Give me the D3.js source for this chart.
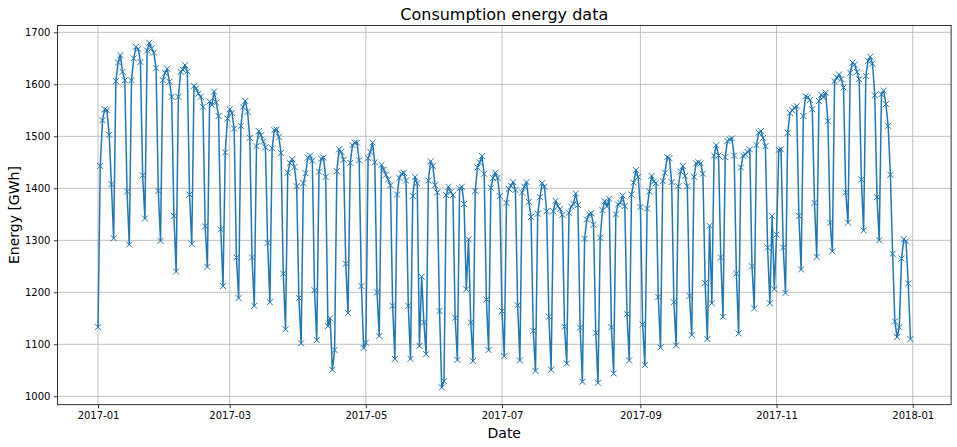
<!DOCTYPE html>
<html>
<head>
<meta charset="utf-8">
<script src="https://cdn.jsdelivr.net/npm/d3@7"></script>
<style>
  html, body { margin: 0; padding: 0; background: #ffffff; }
  svg { display: block; font-family: "DejaVu Sans", sans-serif; }
</style>
</head>
<body>
<svg id="chart" width="957" height="447"></svg>
<script>
// ---- Data: daily energy consumption 2017 (GWh), one array per month ----
const jan = [1133,1443,1531,1552,1550,1503,1408,1304,1606,1642,1656,1624,1608,1394,1292,1608,1650,1672,1668,1643,1425,1342,1665,1680,1669,1661,1631,1395,1299,1608,1622];
const feb = [1630,1605,1576,1347,1240,1576,1624,1628,1637,1625,1388,1293,1597,1592,1582,1576,1557,1327,1249,1567,1560,1586,1565,1539,1321,1212,1469,1534];
const mar = [1552,1545,1515,1267,1189,1520,1557,1568,1547,1497,1267,1174,1481,1510,1502,1490,1479,1295,1181,1477,1512,1513,1499,1468,1236,1129,1430,1449,1456,1441,1404];
const apr = [1189,1102,1410,1429,1459,1463,1453,1204,1108,1432,1457,1459,1422,1135,1150,1051,1089,1433,1475,1470,1455,1255,1160,1449,1483,1488,1488,1454,1212,1093];
const may = [1103,1458,1470,1488,1450,1200,1116,1445,1436,1426,1417,1406,1174,1072,1388,1420,1428,1430,1415,1174,1072,1385,1422,1410,1097,1230,1142,1081,1415,1452,1443];
const jun = [1406,1392,1164,1017,1029,1387,1403,1393,1387,1151,1070,1400,1403,1370,1206,1302,1142,1068,1395,1440,1450,1462,1428,1186,1089,1401,1420,1430,1420,1385];
const jul = [1164,1077,1372,1399,1405,1412,1397,1175,1069,1392,1403,1412,1374,1345,1126,1049,1351,1383,1410,1403,1356,1153,1051,1356,1376,1366,1360,1349,1134,1063,1353];
const aug = [1365,1370,1390,1368,1132,1028,1303,1340,1350,1352,1330,1122,1026,1305,1358,1375,1365,1380,1133,1044,1350,1369,1372,1386,1366,1158,1069,1388,1411,1435,1422];
const sep = [1364,1138,1060,1361,1394,1424,1413,1410,1191,1094,1414,1430,1460,1458,1412,1181,1098,1404,1432,1443,1424,1404,1193,1118,1422,1448,1450,1448,1428,1218];
const oct = [1110,1328,1179,1463,1483,1463,1267,1153,1460,1491,1494,1496,1463,1236,1121,1440,1463,1465,1470,1475,1250,1169,1483,1507,1510,1497,1481,1286,1179,1347,1206];
const nov = [1311,1474,1475,1286,1199,1507,1545,1550,1555,1558,1347,1244,1539,1577,1575,1570,1552,1372,1268,1568,1580,1575,1584,1529,1334,1279,1606,1613,1619,1610];
const dec = [1594,1392,1334,1622,1642,1638,1624,1610,1417,1319,1616,1645,1653,1640,1579,1383,1300,1581,1588,1562,1520,1426,1274,1144,1114,1133,1265,1302,1298,1217,1110];

const startDate = "2017-01-01";
const yTickValues = [1000, 1100, 1200, 1300, 1400, 1500, 1600, 1700];
const xTickLabels = ["2017-01", "2017-03", "2017-05", "2017-07", "2017-09", "2017-11", "2018-01"];
const titleText = "Consumption energy data";
const xLabelText = "Date";
const yLabelText = "Energy [GWh]";

(function () {
  // ---- Build series ----
  const values = [].concat(jan, feb, mar, apr, may, jun, jul, aug, sep, oct, nov, dec);
  const parseDay = d3.utcParse("%Y-%m-%d");
  const parseMonth = d3.utcParse("%Y-%m");
  const t0 = parseDay(startDate);
  const data = values.map((v, i) => ({ date: d3.utcDay.offset(t0, i), value: v }));

  // ---- Layout ----
  const svg = d3.select("#chart");
  const mLeft = 57.4, mRight = 951.1, mTop = 25.5, mBottom = 404.7;
  const blue = "#1f77b4";

  const xExt = d3.extent(data, d => d.date);
  const xSpan = xExt[1] - xExt[0];
  const x = d3.scaleUtc()
    .domain([new Date(+xExt[0] - 0.05 * xSpan), new Date(+xExt[1] + 0.05 * xSpan)])
    .range([mLeft, mRight]);

  const yExt = d3.extent(data, d => d.value);
  const ySpan = yExt[1] - yExt[0];
  const y = d3.scaleLinear()
    .domain([yExt[0] - 0.05 * ySpan, yExt[1] + 0.05 * ySpan])
    .range([mBottom, mTop]);

  const xTicks = xTickLabels.map(s => parseMonth(s));

  // Grid
  const grid = svg.append("g");
  grid.selectAll("line.vg").data(xTicks).enter().append("line")
    .attr("class", "vg")
    .attr("x1", d => x(d)).attr("x2", d => x(d))
    .attr("y1", mTop).attr("y2", mBottom)
    .attr("stroke", "#b0b0b0").attr("stroke-width", 0.8);
  grid.selectAll("line.hg").data(yTickValues).enter().append("line")
    .attr("class", "hg")
    .attr("x1", mLeft).attr("x2", mRight)
    .attr("y1", d => y(d)).attr("y2", d => y(d))
    .attr("stroke", "#b0b0b0").attr("stroke-width", 0.8);

  // Line
  const line = d3.line().x(d => x(d.date)).y(d => y(d.value));
  svg.append("path").datum(data)
    .attr("d", line)
    .attr("fill", "none")
    .attr("stroke", blue)
    .attr("stroke-width", 1.5)
    .attr("stroke-linejoin", "round");

  // Markers 'x'
  const ms = 3;
  svg.append("g").selectAll("path").data(data).enter().append("path")
    .attr("d", d => {
      const cx = x(d.date), cy = y(d.value);
      return `M${cx - ms},${cy - ms}L${cx + ms},${cy + ms}M${cx - ms},${cy + ms}L${cx + ms},${cy - ms}`;
    })
    .attr("stroke", blue)
    .attr("stroke-width", 1)
    .attr("fill", "none");

  // Axes
  const xAxis = d3.axisBottom(x).tickValues(xTicks).tickFormat(d3.utcFormat("%Y-%m"))
    .tickSizeInner(3.5).tickSizeOuter(0).tickPadding(3.5);
  const yAxis = d3.axisLeft(y).tickValues(yTickValues).tickFormat(d3.format("d"))
    .tickSizeInner(3.5).tickSizeOuter(0).tickPadding(3.5);

  const gx = svg.append("g").attr("transform", `translate(0,${mBottom})`).call(xAxis);
  const gy = svg.append("g").attr("transform", `translate(${mLeft},0)`).call(yAxis);
  [gx, gy].forEach(g => {
    g.select(".domain").remove();
    g.selectAll(".tick line").attr("stroke", "#000").attr("stroke-width", 0.8);
    g.selectAll(".tick text").attr("fill", "#000").style("font-size", "10px")
      .style("font-family", "DejaVu Sans, sans-serif");
  });

  // Frame
  svg.append("rect")
    .attr("x", mLeft).attr("y", mTop)
    .attr("width", mRight - mLeft).attr("height", mBottom - mTop)
    .attr("fill", "none").attr("stroke", "#000").attr("stroke-width", 0.8);

  // Title and labels
  svg.append("text")
    .attr("x", (mLeft + mRight) / 2).attr("y", 19.5)
    .attr("text-anchor", "middle")
    .style("font-size", "16px")
    .text(titleText);

  svg.append("text")
    .attr("x", (mLeft + mRight) / 2).attr("y", 438)
    .attr("text-anchor", "middle")
    .style("font-size", "14px")
    .text(xLabelText);

  svg.append("text")
    .attr("transform", `translate(19,${(mTop + mBottom) / 2}) rotate(-90)`)
    .attr("text-anchor", "middle")
    .style("font-size", "14px")
    .text(yLabelText);
})();
</script>
</body>
</html>
